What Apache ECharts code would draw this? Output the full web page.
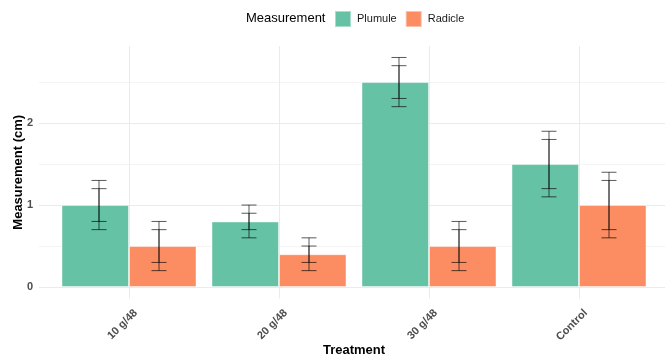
<!DOCTYPE html>
<html>
<head>
<meta charset="utf-8">
<script src="https://cdn.jsdelivr.net/npm/echarts@6/dist/echarts.min.js"></script>
<style>html,body{margin:0;padding:0;background:#fff;}#c{width:665px;height:358px;}</style>
</head>
<body>
<div id="c"></div>
<script>
var categories = ['10 g/48', '20 g/48', '30 g/48', 'Control'];
var plumule = [1.0, 0.8, 2.5, 1.5];
var radicle = [0.5, 0.4, 0.5, 1.0];
var plumuleOuterLow = [0.7, 0.6, 2.2, 1.1];
var plumuleOuterHigh = [1.3, 1.0, 2.8, 1.9];
var plumuleInnerLow = [0.8, 0.7, 2.3, 1.2];
var plumuleInnerHigh = [1.2, 0.9, 2.7, 1.8];
var radicleOuterLow = [0.2, 0.2, 0.2, 0.6];
var radicleOuterHigh = [0.8, 0.6, 0.8, 1.4];
var radicleInnerLow = [0.3, 0.3, 0.3, 0.7];
var radicleInnerHigh = [0.7, 0.5, 0.7, 1.3];
var yTicks = ['0', '1', '2'];

var FONT = "'Liberation Sans', Arial, sans-serif";
var GREEN = '#66C2A5', ORANGE = '#FC8D62';

function errSeries(low, high, sign) {
  return {
    type: 'custom',
    xAxisIndex: 1, yAxisIndex: 1,
    z: 5,
    silent: true,
    data: low.map(function (l, i) { return [i, l, high[i]]; }),
    renderItem: function (params, api) {
      var i = api.value(0);
      var pLow = api.coord([i, api.value(1)]);
      var pHigh = api.coord([i, api.value(2)]);
      var band = api.size([1, 0])[0];
      var x = pLow[0] + sign * 0.2 * band;
      var hw = 0.05 * band;
      var st = { stroke: 'rgba(0,0,0,0.65)', lineWidth: 1 };
      return {
        type: 'group',
        children: [
          { type: 'line', shape: { x1: x, y1: pLow[1], x2: x, y2: pHigh[1] }, style: st },
          { type: 'line', shape: { x1: x - hw, y1: pLow[1], x2: x + hw, y2: pLow[1] }, style: st },
          { type: 'line', shape: { x1: x - hw, y1: pHigh[1], x2: x + hw, y2: pHigh[1] }, style: st }
        ]
      };
    }
  };
}

var chart = echarts.init(document.getElementById('c'), null, { renderer: 'canvas' });
chart.setOption({
  animation: false,
  backgroundColor: '#fff',
  textStyle: { fontFamily: FONT },
  title: {
    text: 'Measurement',
    left: 246, top: 12,
    padding: 0,
    textStyle: { fontFamily: FONT, fontSize: 13, fontWeight: 'normal', color: '#000' }
  },
  legend: {
    data: ['Plumule', 'Radicle'],
    left: 334, top: 10,
    padding: 0,
    itemWidth: 16, itemHeight: 16, itemGap: 8,
    icon: 'rect',
    textStyle: { fontFamily: FONT, fontSize: 11, color: '#1a1a1a', padding: [0, 0, 0, 1] }
  },
  grid: [
    { left: 39, right: 0, top: 46, bottom: 71, containLabel: false, outerBoundsMode: 'none' },
    { left: 54, right: 11, top: 46, bottom: 59.5, containLabel: false, outerBoundsMode: 'none' }
  ],
  xAxis: [
    { gridIndex: 0, type: 'category', data: categories, show: false },
    {
      gridIndex: 1, type: 'category', data: categories,
      axisLine: { show: false }, axisTick: { show: false },
      splitLine: { show: true, alignWithLabel: true, lineStyle: { color: '#EBEBEB', width: 1 } },
      axisLabel: {
        rotate: 45, margin: 6, interval: 0,
        verticalAlign: 'top', padding: [4, 0, 0, 0],
        fontFamily: FONT, fontSize: 11, fontWeight: 'bold', color: '#4D4D4D'
      },
      name: 'Treatment', nameLocation: 'middle', nameGap: 45, nameMoveOverlap: false,
      nameTextStyle: { fontFamily: FONT, fontSize: 13, fontWeight: 'bold', color: '#000' }
    }
  ],
  yAxis: [
    {
      gridIndex: 0, type: 'value', min: 0, max: 2.94, interval: 0.5,
      axisLine: { show: false }, axisTick: { show: false },
      splitLine: { show: true, showMaxLine: false, lineStyle: { color: ['#EBEBEB', '#F4F4F4'], width: 1 } },
      axisLabel: {
        margin: 6, fontFamily: FONT, fontSize: 11, fontWeight: 'bold', color: '#4D4D4D',
        formatter: function (v) {
          var idx = Math.round(v);
          return (Math.abs(v - idx) < 1e-6 && yTicks[idx] !== undefined) ? yTicks[idx] : '';
        }
      }
    },
    {
      gridIndex: 1, type: 'value', min: -0.14, max: 2.94,
      axisLine: { show: false }, axisTick: { show: false },
      splitLine: { show: false }, axisLabel: { show: false },
      name: 'Measurement (cm)', nameLocation: 'middle', nameGap: 29, nameMoveOverlap: false,
      nameTextStyle: { fontFamily: FONT, fontSize: 13, fontWeight: 'bold', color: '#000' }
    }
  ],
  series: [
    {
      name: 'Plumule', type: 'bar', xAxisIndex: 1, yAxisIndex: 1,
      data: plumule, barGap: '0%', barCategoryGap: '10%',
      itemStyle: { color: GREEN, borderColor: 'rgba(255,255,255,0.45)', borderWidth: 1 }
    },
    {
      name: 'Radicle', type: 'bar', xAxisIndex: 1, yAxisIndex: 1,
      data: radicle, barGap: '0%', barCategoryGap: '10%',
      itemStyle: { color: ORANGE, borderColor: 'rgba(255,255,255,0.45)', borderWidth: 1 }
    },
    errSeries(plumuleOuterLow, plumuleOuterHigh, -1),
    errSeries(plumuleInnerLow, plumuleInnerHigh, -1),
    errSeries(radicleOuterLow, radicleOuterHigh, 1),
    errSeries(radicleInnerLow, radicleInnerHigh, 1)
  ]
});
</script>
</body>
</html>
